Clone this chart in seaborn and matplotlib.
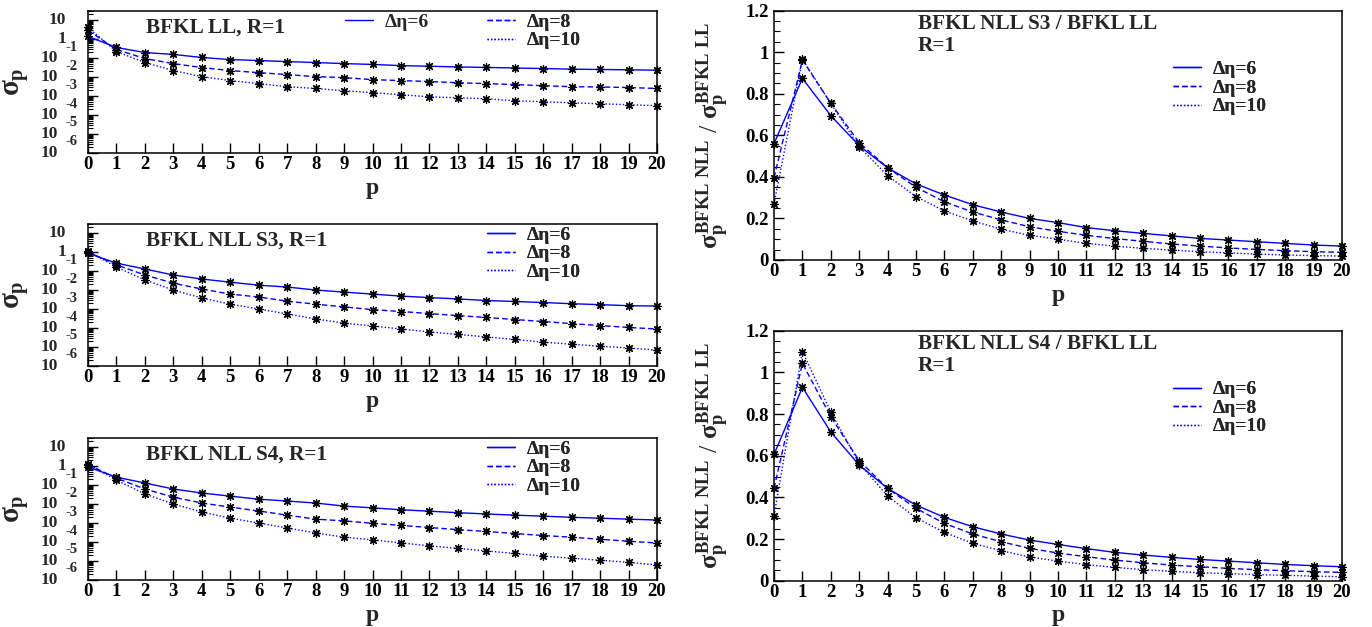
import matplotlib
matplotlib.use("Agg")
import matplotlib.pyplot as plt
import numpy as np
import pandas as pd
import seaborn as sns
from matplotlib.transforms import blended_transform_factory
from matplotlib.ticker import FixedLocator, LogLocator, MultipleLocator, NullFormatter
from matplotlib.lines import Line2D

# ---------------- data ----------------
p_values = list(range(21))
eta_labels = ["Δη=6", "Δη=8", "Δη=10"]

ll_eta6 = [1.38, 0.36, 0.195, 0.155, 0.107, 0.083, 0.074, 0.065, 0.058, 0.051, 0.046,
           0.040, 0.037, 0.034, 0.032, 0.030, 0.028, 0.026, 0.025, 0.024, 0.023]
ll_eta8 = [2.85, 0.28, 0.094, 0.051, 0.0316, 0.0219, 0.017, 0.0135, 0.0105, 0.0093, 0.0073,
           0.0065, 0.0058, 0.0050, 0.0045, 0.0040, 0.0035, 0.0031, 0.0030, 0.0028, 0.0025]
ll_eta10 = [4.1, 0.22, 0.058, 0.0219, 0.0105, 0.0065, 0.0045, 0.0031, 0.0025, 0.0019, 0.0015,
            0.00117, 0.00091, 0.00081, 0.00072, 0.00056, 0.00050, 0.00044, 0.00039, 0.00035, 0.00031]

s3_eta6 = [0.87, 0.26, 0.128, 0.062, 0.038, 0.026, 0.018, 0.0144, 0.010, 0.0078, 0.0061,
           0.0048, 0.0040, 0.0034, 0.0028, 0.0025, 0.0022, 0.0019, 0.0017, 0.0015, 0.00144]
s3_eta8 = [1.0, 0.21, 0.062, 0.023, 0.0113, 0.0061, 0.0043, 0.0026, 0.0018, 0.0013, 0.00093,
           0.00074, 0.00058, 0.00045, 0.00036, 0.00028, 0.00022, 0.00017, 0.000135, 0.000107, 0.000089]
s3_eta10 = [1.15, 0.162, 0.034, 0.010, 0.0038, 0.0018, 0.001, 0.00055, 0.0003, 0.00018, 0.000128,
            0.000089, 0.000062, 0.000046, 0.000034, 0.000025, 0.000018, 0.000014, 0.000011, 0.0000089, 0.0000069]

s4_eta6 = [0.89, 0.26, 0.128, 0.062, 0.038, 0.026, 0.018, 0.0144, 0.0113, 0.0078, 0.0063,
           0.0050, 0.0042, 0.0035, 0.0030, 0.0026, 0.0023, 0.0020, 0.0018, 0.0016, 0.00144]
s4_eta8 = [1.2, 0.23, 0.062, 0.023, 0.0113, 0.0069, 0.0043, 0.0026, 0.0016, 0.0013, 0.00097,
           0.00075, 0.00058, 0.00045, 0.00036, 0.00028, 0.00022, 0.00018, 0.00014, 0.00011, 0.000089]
s4_eta10 = [1.3, 0.18, 0.034, 0.010, 0.0038, 0.0018, 0.001, 0.00055, 0.0003, 0.00018, 0.00013,
            0.00009, 0.000063, 0.000046, 0.000034, 0.000025, 0.000018, 0.000014, 0.000011, 0.0000085, 0.0000062]

r3_eta6 = [0.56, 0.874, 0.695, 0.55, 0.444, 0.366, 0.313, 0.266, 0.231, 0.20, 0.18,
           0.156, 0.141, 0.128, 0.116, 0.104, 0.096, 0.088, 0.080, 0.072, 0.067]
r3_eta8 = [0.396, 0.963, 0.754, 0.565, 0.444, 0.35, 0.28, 0.231, 0.193, 0.16, 0.138,
           0.119, 0.103, 0.09, 0.077, 0.067, 0.058, 0.051, 0.045, 0.040, 0.037]
r3_eta10 = [0.27, 0.966, 0.754, 0.545, 0.406, 0.305, 0.236, 0.188, 0.148, 0.119, 0.10,
            0.08, 0.067, 0.056, 0.048, 0.040, 0.034, 0.029, 0.024, 0.021, 0.019]

r4_eta6 = [0.606, 0.928, 0.714, 0.555, 0.443, 0.363, 0.304, 0.259, 0.224, 0.195, 0.174,
           0.154, 0.136, 0.123, 0.112, 0.102, 0.094, 0.086, 0.078, 0.072, 0.067]
r4_eta8 = [0.443, 1.043, 0.787, 0.576, 0.443, 0.347, 0.275, 0.224, 0.187, 0.155, 0.133,
           0.115, 0.099, 0.086, 0.075, 0.067, 0.059, 0.053, 0.048, 0.043, 0.040]
r4_eta10 = [0.312, 1.10, 0.81, 0.563, 0.406, 0.302, 0.232, 0.179, 0.144, 0.114, 0.094,
            0.077, 0.064, 0.053, 0.045, 0.038, 0.034, 0.029, 0.026, 0.022, 0.019]

left_titles = ["BFKL LL, R=1", "BFKL NLL S3, R=1", "BFKL NLL S4, R=1"]
right_titles = ["BFKL NLL S3 / BFKL LL", "BFKL NLL S4 / BFKL LL"]
log_tick_values = [10, 1, 1e-1, 1e-2, 1e-3, 1e-4, 1e-5, 1e-6]
log_tick_bases = ["10", "1", "10", "10", "10", "10", "10", "10"]
log_tick_exps = ["", "", "-1", "-2", "-3", "-4", "-5", "-6"]

# ---------------- style ----------------
sns.set_theme(style="ticks")
plt.rcParams.update({
    "font.family": ["Liberation Serif", "DejaVu Serif"],
    "font.weight": "bold",
    "mathtext.fontset": "custom",
    "mathtext.rm": "Liberation Serif:bold",
    "mathtext.it": "Liberation Serif:bold",
    "mathtext.bf": "Liberation Serif:bold",
    "axes.linewidth": 1.1,
    "axes.edgecolor": "black",
    "xtick.color": "black",
    "ytick.color": "black",
    "axes.facecolor": "white",
    "figure.facecolor": "white",
})

BLUE = "#0000ff"
DASHES = {"Δη=6": "", "Δη=8": (4.0, 2.2), "Δη=10": (1.0, 1.5)}
LW = 1.0
STAR = (8, 2, 0)


def make_df(series):
    rows = []
    for lab, vals in zip(eta_labels, series):
        for p, v in zip(p_values, vals):
            rows.append({"p": p, "value": v, "series": lab})
    return pd.DataFrame(rows)


def draw_series(ax, series):
    df = make_df(series)
    sns.lineplot(data=df, x="p", y="value", style="series", dashes=DASHES,
                 color=BLUE, lw=LW, legend=False, ax=ax, estimator=None,
                 sort=False, zorder=3)
    sns.scatterplot(data=df, x="p", y="value", marker=STAR, s=30, color="black",
                    linewidth=0.9, legend=False, ax=ax, zorder=5, clip_on=False)


def legend_handles(labels):
    hs = []
    for lab in labels:
        d = DASHES[lab]
        if d == "":
            hs.append(Line2D([], [], color=BLUE, lw=LW, ls="-"))
        else:
            hs.append(Line2D([], [], color=BLUE, lw=LW, ls=(0, d)))
    return hs


def add_legend(ax, labels, x, y):
    leg = ax.legend(legend_handles(labels), labels, loc="upper left",
                    bbox_to_anchor=(x, y), frameon=False,
                    prop={"family": "Liberation Serif", "weight": "bold", "size": 14},
                    handlelength=1.45, handletextpad=0.6, labelspacing=0.05,
                    borderpad=0, borderaxespad=0)
    ax.add_artist(leg)
    return leg


def common_x(ax):
    ax.set_xlim(0, 20)
    ax.xaxis.set_major_locator(MultipleLocator(1))
    ax.tick_params(axis="x", which="major", direction="in", length=7.5, width=1.0,
                   labelsize=13.5, pad=2.5, top=False)
    ax.tick_params(axis="both", which="both", right=False, top=False)
    for lab in ax.get_xticklabels():
        lab.set_fontweight("bold")
    ax.set_xlabel("p", fontsize=17, fontweight="bold", labelpad=3)


fig = plt.figure(figsize=(13.72, 6.27), dpi=100)
W, H = 1372.0, 627.0

left_boxes = [(88, 11, 657, 153), (88, 224, 657, 366), (88, 438, 657, 580)]
left_data = [(ll_eta6, ll_eta8, ll_eta10), (s3_eta6, s3_eta8, s3_eta10), (s4_eta6, s4_eta8, s4_eta10)]
title_y = [0.885, 0.880, 0.885]

for i, ((x0, y0, x1, y1), series) in enumerate(zip(left_boxes, left_data)):
    ax = fig.add_axes([x0 / W, 1 - y1 / H, (x1 - x0) / W, (y1 - y0) / H])
    draw_series(ax, series)
    ax.set_yscale("log")
    ax.set_ylim(1e-6, 30)
    common_x(ax)
    ax.yaxis.set_major_locator(FixedLocator(log_tick_values))
    ax.yaxis.set_minor_locator(LogLocator(base=10, subs=np.arange(2, 10), numticks=20))
    ax.yaxis.set_major_formatter(NullFormatter())
    ax.yaxis.set_minor_formatter(NullFormatter())
    ax.tick_params(axis="y", which="major", direction="in", length=7, width=1.0)
    ax.tick_params(axis="y", which="minor", direction="in", length=3.5, width=0.8)
    trans = blended_transform_factory(ax.transAxes, ax.transData)
    wpx = x1 - x0
    for v, b, e in zip(log_tick_values, log_tick_bases, log_tick_exps):
        if e == "":
            ax.text((66 - x0) / wpx, v, b, transform=trans, ha="right", va="center",
                    fontsize=12.5, fontweight="bold")
        else:
            ax.text((58 - x0) / wpx, v, b, transform=trans, ha="right", va="center",
                    fontsize=12.5, fontweight="bold")
            ax.text((65 - x0) / wpx, v * 10 ** 0.58, e, transform=trans, ha="left",
                    va="center", fontsize=10.5, fontweight="bold")
    ax.set_ylabel(r"$\sigma_{\rm p}$", fontsize=21)
    ax.yaxis.set_label_coords((31 - x0) / wpx, 0.5)
    ax.text((146 - x0) / wpx, title_y[i], left_titles[i], transform=ax.transAxes,
            ha="left", va="center", fontsize=15.3, fontweight="bold")
    if i == 0:
        add_legend(ax, ["Δη=6"], (345 - x0) / wpx, 0.985)
        add_legend(ax, ["Δη=8", "Δη=10"], (487 - x0) / wpx, 0.985)
    else:
        add_legend(ax, eta_labels, (487 - x0) / wpx, 0.985)

right_boxes = [(774, 10.7, 1342, 260), (774, 330.7, 1342, 580.7)]
right_data = [(r3_eta6, r3_eta8, r3_eta10), (r4_eta6, r4_eta8, r4_eta10)]
for i, ((x0, y0, x1, y1), series) in enumerate(zip(right_boxes, right_data)):
    ax = fig.add_axes([x0 / W, 1 - y1 / H, (x1 - x0) / W, (y1 - y0) / H])
    draw_series(ax, series)
    ax.set_ylim(0, 1.2)
    common_x(ax)
    ax.yaxis.set_major_locator(MultipleLocator(0.2))
    ax.yaxis.set_minor_locator(MultipleLocator(0.05))
    ax.set_yticks([0, 0.2, 0.4, 0.6, 0.8, 1.0, 1.2])
    ax.set_yticklabels(["0", "0.2", "0.4", "0.6", "0.8", "1", "1.2"], fontweight="bold")
    ax.tick_params(axis="y", which="major", direction="in", length=7.5, width=1.0,
                   labelsize=13.5, pad=4)
    ax.tick_params(axis="y", which="minor", direction="in", length=4, width=0.8)
    ax.set_ylabel(r"$\sigma_{\rm p}^{\rm BFKL\ NLL}$ / $\sigma_{\rm p}^{\rm BFKL\ LL}$", fontsize=19)
    wpx = x1 - x0
    hpx = y1 - y0
    ax.yaxis.set_label_coords((731 - x0) / wpx, 0.5)
    ax.text((918 - x0) / wpx, 0.947, right_titles[i], transform=ax.transAxes,
            ha="left", va="center", fontsize=15.3, fontweight="bold")
    ax.text((918 - x0) / wpx, 0.858, "R=1", transform=ax.transAxes,
            ha="left", va="center", fontsize=15.3, fontweight="bold")
    add_legend(ax, eta_labels, (1173 - x0) / wpx, 0.80)

fig.savefig("out.png", dpi=100)
